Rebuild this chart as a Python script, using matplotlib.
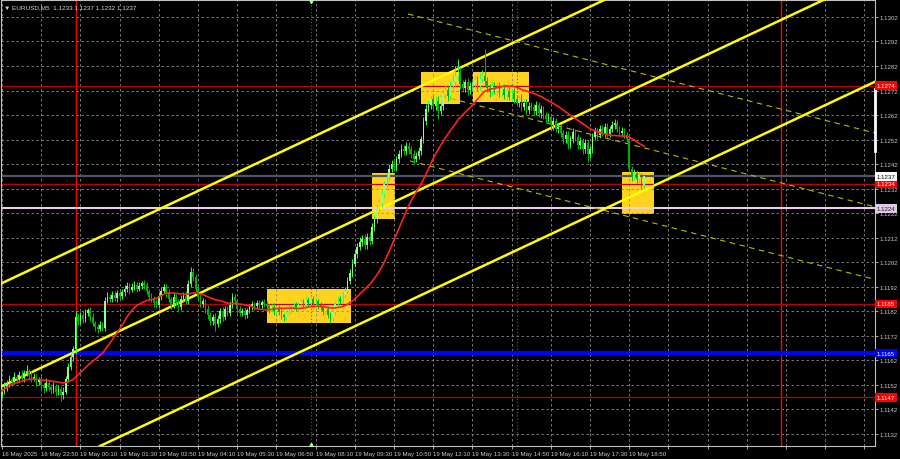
import numpy as np
import pandas as pd
import matplotlib
matplotlib.use('Agg')
import matplotlib.pyplot as plt
from matplotlib.patches import Rectangle

plt.rcParams['font.family'] = ['Liberation Sans', 'DejaVu Sans']

# EURUSD M5 closes, bar 0 = 16 May 21:30
close = [
    1.11495, 1.11511, 1.11523, 1.11544, 1.11532, 1.11552, 1.11544, 1.11560, 1.11548, 1.11568, 1.11576, 1.11560, 1.11544, 1.11552, 1.11532, 1.11540,
    1.11519, 1.11507, 1.11527, 1.11511, 1.11499, 1.11515, 1.11491, 1.11503, 1.11478, 1.11491, 1.11544, 1.11593, 1.11633, 1.11666, 1.11797, 1.11780,
    1.11805, 1.11788, 1.11813, 1.11825, 1.11797, 1.11772, 1.11756, 1.11748, 1.11764, 1.11752, 1.11862, 1.11878, 1.11870, 1.11886, 1.11874, 1.11894,
    1.11882, 1.11898, 1.11911, 1.11923, 1.11907, 1.11919, 1.11927, 1.11911, 1.11923, 1.11935, 1.11927, 1.11903, 1.11878, 1.11870, 1.11854, 1.11845,
    1.11882, 1.11903, 1.11919, 1.11894, 1.11870, 1.11845, 1.11878, 1.11858, 1.11837, 1.11870, 1.11882, 1.11862, 1.11931, 1.11980, 1.11960, 1.11911,
    1.11878, 1.11850, 1.11862, 1.11829, 1.11805, 1.11780, 1.11797, 1.11768, 1.11788, 1.11821, 1.11797, 1.11829, 1.11813, 1.11845, 1.11878, 1.11862,
    1.11829, 1.11813, 1.11821, 1.11805, 1.11825, 1.11837, 1.11850, 1.11841, 1.11854, 1.11845, 1.11858, 1.11850, 1.11841, 1.11829, 1.11837, 1.11821,
    1.11833, 1.11817, 1.11805, 1.11797, 1.11813, 1.11829, 1.11837, 1.11845, 1.11833, 1.11850, 1.11858, 1.11845, 1.11866, 1.11854, 1.11870, 1.11850,
    1.11862, 1.11845, 1.11837, 1.11821, 1.11829, 1.11805, 1.11792, 1.11817, 1.11850, 1.11870, 1.11862, 1.11886, 1.11903, 1.11943, 1.11976, 1.12013,
    1.12053, 1.12082, 1.12102, 1.12115, 1.12090, 1.12123, 1.12106, 1.12163, 1.12196, 1.12237, 1.12261, 1.12298, 1.12339, 1.12367, 1.12400, 1.12420,
    1.12408, 1.12441, 1.12461, 1.12481, 1.12473, 1.12494, 1.12481, 1.12461, 1.12441, 1.12453, 1.12473, 1.12522, 1.12596, 1.12645, 1.12663, 1.12684,
    1.12655, 1.12676, 1.12635, 1.12655, 1.12704, 1.12721, 1.12696, 1.12737, 1.12753, 1.12778, 1.12794, 1.12745, 1.12729, 1.12753, 1.12721, 1.12737,
    1.12745, 1.12761, 1.12737, 1.12769, 1.12778, 1.12757, 1.12729, 1.12712, 1.12737, 1.12719, 1.12736, 1.12711, 1.12727, 1.12703, 1.12719, 1.12695,
    1.12711, 1.12687, 1.12670, 1.12687, 1.12654, 1.12670, 1.12642, 1.12658, 1.12653, 1.12636, 1.12661, 1.12628, 1.12645, 1.12620, 1.12604, 1.12612,
    1.12579, 1.12596, 1.12563, 1.12571, 1.12547, 1.12522, 1.12539, 1.12502, 1.12522, 1.12551, 1.12530, 1.12498, 1.12514, 1.12481, 1.12506, 1.12461,
    1.12481, 1.12530, 1.12555, 1.12539, 1.12563, 1.12547, 1.12571, 1.12543, 1.12563, 1.12579, 1.12587, 1.12563, 1.12547, 1.12555, 1.12539, 1.12522,
    1.12400, 1.12367, 1.12384, 1.12359, 1.12375, 1.12335, 1.12370,
]
first_open = 1.11480

# upper / lower shadow length in points (0.00001)
up_wick = [
    12, 20, 15, 18, 10, 22, 14, 16, 20, 12, 25, 10, 15, 18, 12, 14,
    16, 10, 20, 12, 14, 18, 10, 15, 12, 20, 14, 18, 16, 12, 25, 18,
    14, 20, 16, 8, 12, 15, 10, 14, 18, 12, 15, 20, 14, 16, 18, 12,
    15, 14, 18, 16, 12, 15, 18, 14, 16, 8, 14, 12, 10, 15, 12, 16,
    18, 15, 14, 12, 16, 10, 15, 14, 12, 18, 15, 20, 16, 20, 18, 14,
    12, 16, 14, 10, 15, 12, 14, 16, 18, 12, 15, 14, 12, 18, 16, 12,
    10, 14, 12, 15, 10, 12, 14, 10, 12, 14, 10, 12, 14, 10, 12, 15,
    10, 12, 14, 10, 12, 15, 10, 12, 14, 10, 12, 14, 15, 12, 10, 14,
    12, 10, 14, 12, 10, 12, 14, 10, 12, 15, 12, 14, 16, 18, 15, 20,
    18, 15, 20, 18, 22, 16, 20, 18, 15, 20, 16, 18, 14, 16, 20, 18,
    16, 14, 18, 20, 16, 15, 18, 14, 16, 15, 18, 14, 16, 20, 18, 15,
    16, 20, 22, 18, 15, 20, 18, 22, 30, 40, 55, 20, 18, 16, 20, 18,
    15, 18, 20, 22, 24, 111, 20, 18, 22, 16, 18, 20, 15, 18, 16, 14,
    16, 18, 14, 16, 18, 14, 15, 16, 14, 12, 15, 14, 16, 12, 14, 15,
    14, 16, 12, 15, 14, 12, 16, 14, 12, 18, 14, 12, 16, 14, 18, 12,
    14, 16, 18, 14, 16, 18, 15, 16, 14, 16, 18, 14, 12, 15, 14, 12,
    10, 14, 16, 12, 14, 10, 0,
]
dn_wick = [
    14, 10, 16, 12, 18, 10, 15, 12, 14, 16, 12, 18, 14, 10, 16, 12,
    15, 18, 12, 16, 14, 10, 18, 12, 25, 14, 10, 12, 14, 16, 18, 14,
    12, 15, 10, 14, 16, 12, 18, 15, 10, 14, 12, 10, 14, 12, 10, 14,
    12, 10, 14, 12, 15, 10, 12, 14, 10, 12, 15, 14, 12, 10, 15, 10,
    12, 14, 10, 15, 14, 16, 12, 14, 18, 12, 10, 14, 12, 10, 15, 14,
    16, 14, 12, 15, 18, 16, 14, 28, 12, 14, 16, 12, 14, 12, 10, 14,
    15, 12, 14, 16, 12, 10, 12, 14, 10, 12, 14, 12, 10, 14, 12, 14,
    12, 14, 16, 18, 12, 10, 14, 12, 10, 12, 14, 10, 12, 14, 10, 12,
    10, 14, 12, 15, 12, 14, 20, 12, 10, 12, 14, 10, 12, 14, 12, 15,
    14, 16, 12, 15, 18, 14, 16, 12, 14, 16, 12, 14, 16, 12, 15, 14,
    18, 14, 16, 12, 15, 14, 18, 16, 20, 14, 12, 15, 14, 16, 14, 18,
    16, 14, 33, 15, 14, 16, 18, 14, 16, 15, 14, 18, 16, 14, 18, 16,
    14, 16, 18, 14, 12, 16, 14, 18, 16, 14, 18, 16, 14, 18, 16, 14,
    16, 18, 14, 16, 18, 14, 18, 16, 14, 18, 16, 14, 18, 16, 18, 14,
    16, 18, 14, 16, 18, 20, 16, 20, 18, 14, 16, 18, 16, 18, 14, 33,
    16, 14, 12, 16, 14, 12, 16, 14, 12, 14, 16, 14, 12, 16, 14, 12,
    8, 14, 12, 16, 14, 18, 15,
]

time_labels = ['16 May 2025', '16 May 22:50', '19 May 00:10', '19 May 01:30', '19 May 02:50',
               '19 May 04:10', '19 May 05:30', '19 May 06:50', '19 May 08:10', '19 May 09:30',
               '19 May 10:50', '19 May 12:10', '19 May 13:30', '19 May 14:50', '19 May 16:10',
               '19 May 17:30', '19 May 18:50']
price_ticks = [round(1.1132 + 0.001 * k, 4) for k in range(18)]

red_levels = [1.1274, 1.1234, 1.1185, 1.1147]
bid_level = 1.1237
pink_level = 1.1224
blue_level = 1.1165
day_bars = [30, 318]
session_bars = [126, 210]

# rising channel (bar, price) anchor pairs
channel = [((0, 1.11935), (200, 1.12874)),
           ((0, 1.11515), (200, 1.12454)),
           ((0, 1.11083), (200, 1.12022))]
# falling dashed channel
down_channel = [((165.7, 1.13032), (357, 1.12545)),
                ((179, 1.12698), (357, 1.12244)),
                ((166.5, 1.12433), (357, 1.11948))]
# highlighted areas: bar from, bar to, price low, price high
boxes = [(108.2, 142.4, 1.11772, 1.11911),
         (151.0, 160.4, 1.12196, 1.12384),
         (171.0, 187.0, 1.12665, 1.12795),
         (192.2, 215.1, 1.12673, 1.12795),
         (253.0, 266.0, 1.12216, 1.12388)]

c = np.array(close)
o = np.array([first_open] + close[:-1])
hi = np.maximum(o, c) + np.array(up_wick) * 1e-5
lo = np.minimum(o, c) - np.array(dn_wick) * 1e-5
idx = np.arange(len(c))
ma = pd.Series(c).rolling(26, min_periods=1).mean()

fs = 4.4
fig = plt.figure(figsize=(9, 4.6), dpi=100, facecolor='black')
ax = fig.add_axes([1 / 900, 1 - 447 / 460, 874 / 900, 446 / 460], facecolor='black')
ax.set_xlim(-0.41, 356.3)
ax.set_ylim(1.11271, 1.13089)

# grid
xt = np.arange(0, 357, 16)
ax.set_xticks(xt)
ax.set_xticklabels(time_labels + [''] * (len(xt) - len(time_labels)), ha='left')
ax.set_yticks(price_ticks)
ax.set_yticklabels(['%.4f' % p for p in price_ticks])
ax.yaxis.tick_right()
ax.grid(True, color='#8a8a8a', linestyle=(0, (3, 3)), linewidth=0.6, zorder=0)
ax.tick_params(colors='#c8c8c8', labelsize=fs, length=2, width=0.6, pad=1.5)
for s in ax.spines.values():
    s.set_color('#c0c0c0')
    s.set_linewidth(0.8)

for x0, x1, p0, p1 in boxes:
    ax.add_patch(Rectangle((x0, p0), x1 - x0, p1 - p0, facecolor='#FFD21F', edgecolor='none', zorder=1))

for b in day_bars:
    ax.axvline(b, color='#FF0000', lw=1, zorder=2)
for b in session_bars:
    ax.axvline(b, color='#00A000', lw=0.8, linestyle=(0, (1, 2)), zorder=2)
ax.plot(session_bars[:1], [1.13085], marker='v', color='#A0FFA0', ms=3, zorder=6)
ax.plot(session_bars[:1], [1.11276], marker='^', color='#A0FFA0', ms=3, zorder=6)

for p in red_levels:
    ax.axhline(p, color='#C00000', lw=0.9, zorder=2)
ax.axhline(bid_level, color='#4c5664', lw=1.6, zorder=2)
ax.axhline(pink_level, color='#E8D0E8', lw=1.5, zorder=2)
ax.axhline(blue_level, color='#0000FF', lw=3, zorder=2)

for (a, b) in channel:
    ax.axline(a, b, color='#FFFF00', lw=1.8, zorder=3)
for (a, b) in down_channel:
    ax.plot([a[0], b[0]], [a[1], b[1]], color='#B8B800', lw=0.8, linestyle=(0, (5, 4)), zorder=3)

# candles
bull = c >= o
ax.vlines(idx, lo, hi, colors=np.where(bull, '#33FF33', '#00C000'), lw=0.7, zorder=4)
body = np.where(np.abs(c - o) < 2e-5, 2e-5, c - o)
ax.bar(idx[bull], body[bull], bottom=o[bull], width=0.65, color='#8CFF8C', zorder=4)
ax.bar(idx[~bull], body[~bull], bottom=o[~bull], width=0.65, color='#00B000', zorder=4)

ax.plot(idx, ma, color='#FF2020', lw=1.2, zorder=5)

# scale marker at the right edge
ax.plot([356.2, 356.2], [1.12726, 1.12473], color='white', lw=2, clip_on=False, zorder=6)

# price tags on the right scale
tf = ax.get_yaxis_transform()
tags = [(p, '#FF0000', 'white') for p in red_levels]
tags += [(bid_level, 'white', 'black'), (pink_level, '#E0C8E6', '#202020'), (blue_level, '#0000FF', 'white')]
for p, fc, tc in tags:
    ax.text(1.002, p, '%.4f' % p, transform=tf, ha='left', va='center', fontsize=fs, color=tc,
            bbox=dict(boxstyle='square,pad=0.3', fc=fc, ec='none'), clip_on=False, zorder=10)

fig.text(4 / 900, 1 - 8 / 460, '\u25bc EURUSD,M5  1.1233 1.1237 1.1232 1.1237', color='#d8d8d8',
         fontsize=4.6, va='center', ha='left')

fig.savefig('out.png', dpi=100, facecolor='black')
